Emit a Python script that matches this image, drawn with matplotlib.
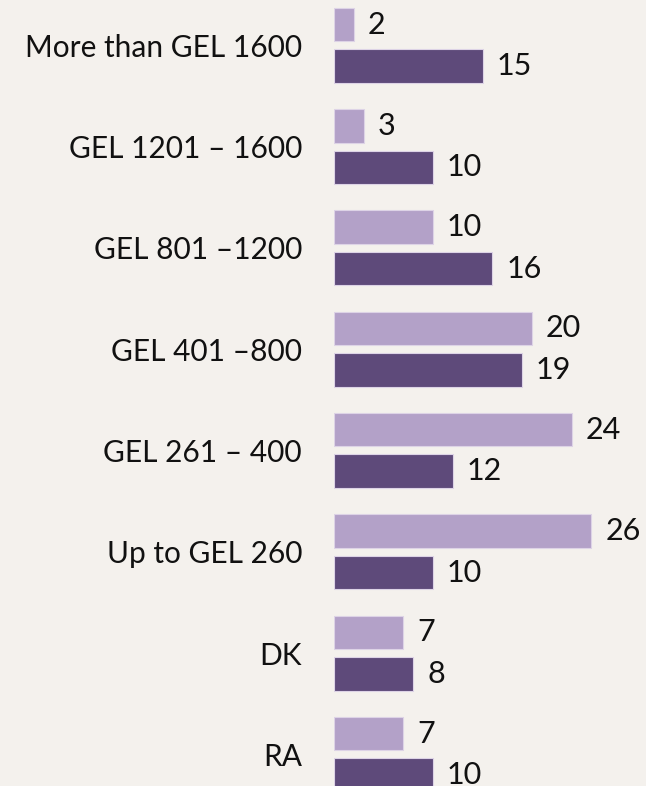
import matplotlib
matplotlib.use("Agg")
import matplotlib.pyplot as plt
import numpy as np

categories = ["More than GEL 1600", "GEL 1201 – 1600", "GEL 801 –1200", "GEL 401 –800",
              "GEL 261 – 400", "Up to GEL 260", "DK", "RA"]
series_light = [2, 3, 10, 20, 24, 26, 7, 7]
series_dark = [15, 10, 16, 19, 12, 10, 8, 10]

BG = "#f4f1ed"
LIGHT = "#b3a1c8"
DARK = "#5e4a7a"

plt.rcParams['font.family'] = ['Lato', 'DejaVu Sans']

W, H = 646, 786
fig = plt.figure(figsize=(W / 100, H / 100), dpi=100, facecolor=BG)
x0 = 334
ax = fig.add_axes([x0 / W, 0, 1 - x0 / W, 1], facecolor=BG)

pitch = 101.3
c0 = 45.25
px_per_unit = 9.9
y = np.arange(len(categories))
off = 20.75 / pitch
h = 33.5 / pitch

b1 = ax.barh(y - off, series_light, height=h, color=LIGHT, edgecolor="#ddd3e6", linewidth=0.8)
b2 = ax.barh(y + off, series_dark, height=h, color=DARK, edgecolor="#ddd3e6", linewidth=0.8)
ax.bar_label(b1, padding=10, fontsize=22, color="#111111")
ax.bar_label(b2, padding=10, fontsize=22, color="#111111")

ax.set_ylim((H - c0) / pitch, -c0 / pitch)
ax.set_xlim(0, (W - x0) / px_per_unit)
ax.set_yticks(y)
ax.set_yticklabels(categories, fontsize=21.5, color="#111111")
ax.tick_params(axis='y', length=0, pad=23)
ax.set_xticks([])
for s in ax.spines.values():
    s.set_visible(False)

fig.savefig("out.png", dpi=100, facecolor=BG)
